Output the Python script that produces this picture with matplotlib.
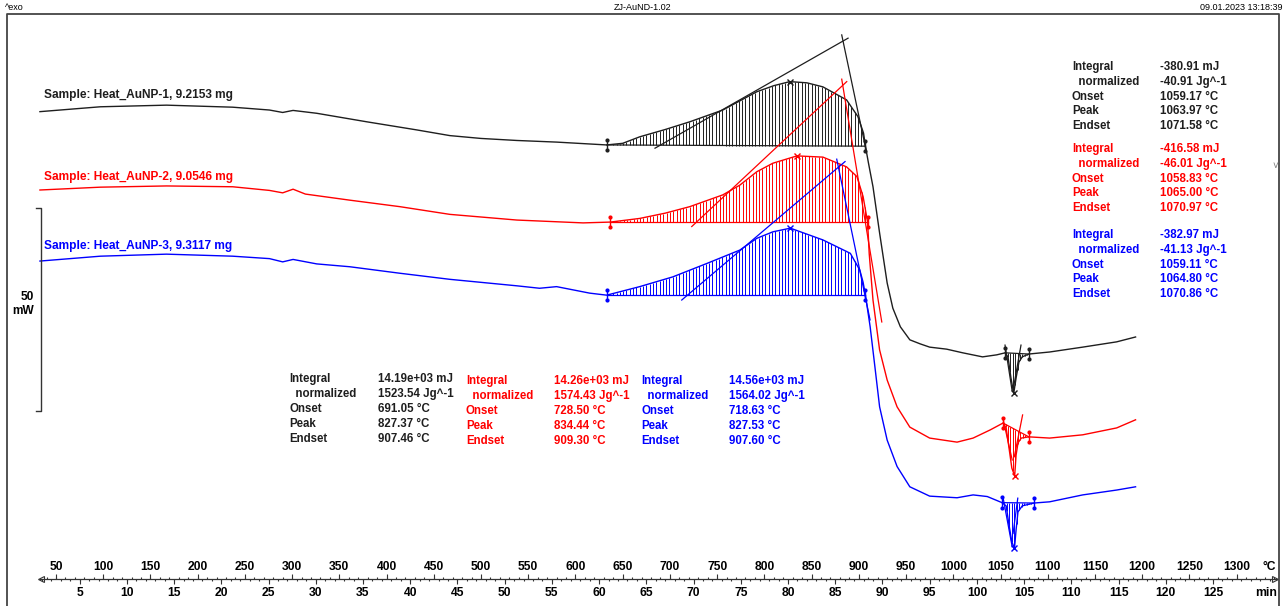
import numpy as np
import matplotlib.pyplot as plt
from matplotlib.lines import Line2D

plt.rcParams['font.family'] = ['Liberation Sans', 'DejaVu Sans']

W, H = 1285, 606

# heat flow curves: temperature (°C) and heat flow (mW, stacked as on the plot, exo up)
temp_1 = [33, 97, 167, 237, 276, 290, 301, 326, 379, 432, 467, 500, 538, 580, 633, 650,
          668, 695, 721, 756, 792, 810, 827, 845, 862, 887, 899, 905, 907, 910, 915,
          922, 930, 936, 944, 954, 965, 975, 993, 1010, 1031, 1046, 1055, 1058, 1061,
          1064, 1066.5, 1069.5, 1073, 1080, 1102, 1137, 1173, 1193]
hf_1 = [-27.5, -26.3, -25.9, -26.4, -27.1, -27.7, -27.2, -27.9, -30.0, -32.0, -33.4,
        -34.1, -34.6, -35.0, -35.7, -35.3, -33.7, -31.9, -30.0, -27.1, -22.6, -21.1,
        -20.1, -20.4, -21.4, -24.6, -28.7, -32.8, -36.0, -39.9, -46.0, -57.4, -69.7,
        -75.9, -80.5, -83.7, -84.7, -85.5, -86.0, -86.9, -87.9, -87.4, -86.9, -88.0,
        -93.0, -96.9, -93.1, -89.2, -87.9, -87.2, -86.7, -85.5, -84.2, -83.0]

temp_2 = [33, 97, 167, 237, 276, 290, 301, 314, 361, 414, 467, 538, 608, 637, 668,
          695, 721, 756, 774, 792, 809, 834.5, 862, 887, 898, 904.5, 909.3, 911, 915,
          922, 930, 940.5, 954, 975, 1004, 1021, 1039, 1052.7, 1056, 1059, 1062,
          1065, 1066.5, 1068.5, 1072, 1080, 1102, 1137, 1173, 1193]
hf_2 = [-46.8, -46.1, -45.8, -46.0, -46.9, -47.5, -46.6, -47.8, -49.3, -50.9, -52.8,
        -54.2, -54.9, -54.7, -53.8, -52.5, -50.9, -48.0, -45.6, -42.3, -40.2, -38.4,
        -38.7, -41.1, -43.5, -48.4, -54.7, -62.5, -73.9, -86.2, -93.6, -100.2, -105.2,
        -107.9, -108.9, -107.9, -105.9, -104.2, -105.4, -110.3, -115.3, -117.2,
        -112.1, -109.1, -107.9, -107.6, -107.9, -107.1, -105.4, -103.4]

temp_3 = [33, 97, 167, 237, 276, 290, 301, 326, 361, 414, 467, 538, 562, 580, 615,
          633, 668, 703, 739, 774, 792, 809, 827.5, 862, 891, 901, 904.5, 907, 912,
          917, 922, 930, 940.5, 954, 975, 1004, 1021, 1036, 1049.5, 1051.6, 1056,
          1059, 1062, 1064.8, 1066.5, 1068.5, 1073, 1085.5, 1102, 1137, 1173, 1193]
hf_3 = [-64.3, -63.1, -62.6, -63.1, -63.7, -64.5, -63.9, -65.0, -65.7, -67.3, -68.8,
        -70.4, -71.0, -70.6, -72.2, -72.7, -70.6, -68.2, -64.9, -61.6, -58.7, -57.1,
        -56.2, -59.1, -62.4, -66.5, -69.5, -72.7, -80.5, -90.3, -100.2, -108.4,
        -114.9, -119.9, -122.2, -122.6, -121.9, -122.3, -123.6, -123.8, -124.6,
        -129.3, -133.5, -135.0, -130.5, -126.1, -124.6, -123.9, -123.6, -121.9,
        -120.7, -119.9]

samples = ['Sample: Heat_AuNP-1, 9.2153 mg', 'Sample: Heat_AuNP-2, 9.0546 mg',
           'Sample: Heat_AuNP-3, 9.3117 mg']
colors = ['#1e1e1e', '#ff0000', '#0000ff']

# integration limits and peaks (°C)
main_lim = [(633, 907), (637, 909.3), (633, 907)]
small_lim = [(1055, 1080), (1052.7, 1080), (1051.6, 1085.5)]
main_peak = [827.37, 834.44, 827.53]
small_peak = [1063.97, 1065.00, 1064.80]

# tangent constructions (°C, mW)
onset_tan = [[(684.2, -36.5), (888.6, -9.4)], [(723.1, -55.8), (887.2, -20.1)],
             [(712.5, -73.9), (885.4, -39.8)]]
endset_tan = [[(881.9, -8.6), (907.6, -36.9)], [(881.9, -19.5), (924.3, -79.3)],
              [(876.6, -39.2), (911.9, -78.8)]]
small_tan = [[[(1054.8, -85.0), (1062.2, -96.1)], [(1071.7, -85.0), (1063.3, -96.1)]],
             [[(1052.5, -103.0), (1062.4, -113.3)], [(1073.4, -102.2), (1064.6, -112.5)]],
             [[(1052.5, -122.3), (1062.4, -134.7)], [(1068.3, -122.7), (1063.3, -131.4)]]]

row_names = ['Integral', '  normalized', 'Onset', 'Peak', 'Endset']
main_vals = [['14.19e+03 mJ', '1523.54 Jg^-1', '691.05 °C', '827.37 °C', '907.46 °C'],
             ['14.26e+03 mJ', '1574.43 Jg^-1', '728.50 °C', '834.44 °C', '909.30 °C'],
             ['14.56e+03 mJ', '1564.02 Jg^-1', '718.63 °C', '827.53 °C', '907.60 °C']]
small_vals = [['-380.91 mJ', '-40.91 Jg^-1', '1059.17 °C', '1063.97 °C', '1071.58 °C'],
              ['-416.58 mJ', '-46.01 Jg^-1', '1058.83 °C', '1065.00 °C', '1070.97 °C'],
              ['-382.97 mJ', '-41.13 Jg^-1', '1059.11 °C', '1064.80 °C', '1070.86 °C']]

temp_ticks = np.arange(50, 1301, 50)
time_ticks = np.arange(5, 126, 5)   # min, heating 10 K/min from 25 °C

# pixel helpers (layout only)
PX_PER_C = 0.9445
PX_PER_MW = 4.06
def tx(px):
    return 50 + (px - 56) / PX_PER_C
def hy(py):
    return -py / PX_PER_MW

fig = plt.figure(figsize=(W / 100, H / 100), dpi=100)
ax = fig.add_axes([0, 0, 1, 1])
ax.set_xlim(tx(0), tx(W))
ax.set_ylim(hy(H), 0)
ax.axis('off')

curves = [(temp_1, hf_1), (temp_2, hf_2), (temp_3, hf_3)]


def limit_mark(x, y, c):
    ax.plot([x, x], [y - 1.3, y + 1.3], color=c, lw=1.0)
    ax.plot([x, x], [y - 1.3, y + 1.3], 'o', color=c, ms=2.0)


def hatch(T, hf, lo, hi, step, c):
    ylo, yhi = np.interp([lo, hi], T, hf)
    xs = np.arange(lo + step, hi - step * 0.3, step)
    base = ylo + (xs - lo) * (yhi - ylo) / (hi - lo)
    ax.vlines(xs, base, np.interp(xs, T, hf), color=c, lw=0.7)
    ax.plot([lo, hi], [ylo, yhi], color=c, lw=0.9)
    limit_mark(lo, ylo, c)
    limit_mark(hi, yhi, c)


for i, (T, hf) in enumerate(curves):
    c = colors[i]
    ax.plot(T, hf, color=c, lw=1.0)
    hatch(T, hf, main_lim[i][0], main_lim[i][1], 3.5, c)
    hatch(T, hf, small_lim[i][0], small_lim[i][1], 2.6, c)
    for seg in [onset_tan[i], endset_tan[i]] + small_tan[i]:
        ax.plot([seg[0][0], seg[1][0]], [seg[0][1], seg[1][1]], color=c, lw=0.9)
    for pk in (main_peak[i], small_peak[i]):
        ax.plot(pk, np.interp(pk, T, hf), 'x', color=c, ms=4, mew=1.0)

# text helpers in pixel layout
def put(px, py, s, **kw):
    fig.text(px / W, 1 - py / H, s, va='center', **kw)

for i, s in enumerate(samples):
    put(44, [95, 177, 246][i], s, color=colors[i], fontsize=8.6, fontweight='bold')

# main peak results (bottom)
for i in range(3):
    lx = [289, 466, 641][i]
    vx = [378, 554, 729][i]
    y0 = [379, 381, 381][i]
    for r in range(5):
        put(lx, y0 + r * 15, row_names[r], color=colors[i], fontsize=8.3, fontweight='bold')
        put(vx, y0 + r * 15, main_vals[i][r], color=colors[i], fontsize=8.3, fontweight='bold')

# small peak results (right)
for i in range(3):
    y0 = [67, 149, 235][i]
    for r in range(5):
        put(1072, y0 + r * 14.8, row_names[r], color=colors[i], fontsize=8.3, fontweight='bold')
        put(1160, y0 + r * 14.8, small_vals[i][r], color=colors[i], fontsize=8.3, fontweight='bold')

put(1275, 166, '˅', color='#777777', fontsize=7, ha='center')

# header
put(5, 7, '^exo', fontsize=6.5)
put(643, 7, 'ZJ-AuND-1.02', fontsize=6.5, ha='center')
put(1282, 7, '09.01.2023 13:18:39', fontsize=6.5, ha='right')

# frame
fig.add_artist(Line2D([7 / W, 7 / W, 1279 / W, 1279 / W], [0, 1 - 14 / H, 1 - 14 / H, 0],
                      transform=fig.transFigure, color='#444444', lw=1.3))

# 50 mW scale bar
bar_top = hy(208)
ax.plot([tx(36), tx(41), tx(41), tx(36)], [bar_top, bar_top, bar_top - 50, bar_top - 50],
        color='#333333', lw=1.0)
put(34, 297, '50', fontsize=8.6, fontweight='bold', ha='right')
put(34, 311, 'mW', fontsize=8.6, fontweight='bold', ha='right')

# temperature / time ruler
ry = hy(579)
ax.plot([tx(40), tx(1276)], [ry, ry], color='#333333', lw=0.9)
ax.plot(tx(41), ry, marker='<', ms=4, mfc='none', mec='#333333', mew=0.8)
ax.plot(tx(1275), ry, marker='>', ms=4, mfc='none', mec='#333333', mew=0.8)
minor_c = np.arange(40, 1341, 10)
ax.vlines(minor_c, ry, ry + 0.6, color='#333333', lw=0.8)
ax.vlines(temp_ticks, ry, ry + 1.2, color='#333333', lw=0.8)
minor_t = 25 + 10 * np.arange(1, 132)
ax.vlines(minor_t, ry - 0.6, ry, color='#333333', lw=0.8)
ax.vlines(25 + 10 * time_ticks, ry - 1.2, ry, color='#333333', lw=0.8)
for t in temp_ticks:
    ax.text(t, hy(567), str(t), ha='center', va='center', fontsize=8.7, fontweight='bold')
for m in time_ticks:
    ax.text(25 + 10 * m, hy(593), str(m), ha='center', va='center', fontsize=8.7,
            fontweight='bold')
put(1269, 567, '°C', fontsize=8.7, fontweight='bold', ha='center')
put(1266, 593, 'min', fontsize=8.7, fontweight='bold', ha='center')

fig.savefig('out.png', dpi=100)
